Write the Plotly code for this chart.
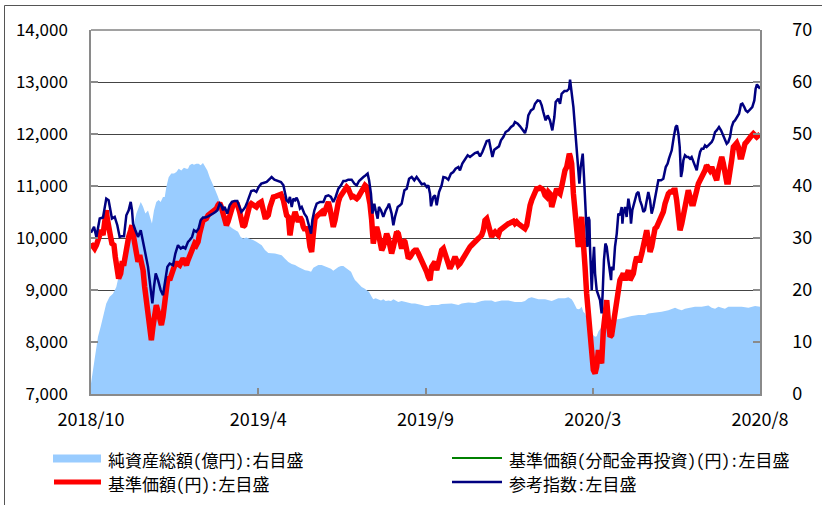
import plotly.graph_objects as go

# ---------------- data ----------------
# x positions are trading-day indices (category axis, 0 .. 460)
tick_pos = [0, 115, 230, 345, 460]
tick_labels = ["2018/10", "2019/4", "2019/9", "2020/3", "2020/8"]

# 純資産総額 (億円) : right axis
aum_day = [0, 1.4, 3.0, 4.8, 6.6, 8.25, 10.5, 12.8, 15.1, 17.4, 19.7, 22.0, 24.3, 25.9, 27.7,
           29.6, 31.2, 32.8, 34.2, 35.8, 37.4, 39.2, 40.8, 41.9, 43.3, 44.9, 46.5, 47.9, 49.5,
           50.7, 51.8, 53.4, 55.2, 57.1, 58.7, 60.3, 62.1, 63.9, 65.6, 66.7, 67.8, 69.5, 70.8,
           72.4, 74.0, 75.4, 77.0, 78.6, 80.0, 81.6, 83.2, 85.0, 86.9, 88.5, 90.8, 92.4, 94.2,
           96.0, 97.6, 99.2, 101.1, 102.9, 104.5, 106.8, 109.1, 111.4, 113.7, 116.0,
           117.4, 119.6, 121.9, 126.5, 131.1, 133.4, 135.7, 138.0, 140.3, 142.6, 144.9, 147.2,
           149.4, 151.3, 152.9, 154.5, 156.3, 158.6, 160.9, 163.2, 165.0, 166.6, 168.2, 170.1,
           171.9, 173.5, 175.1, 176.9, 178.8, 180.4, 181.5, 182.7, 184.3, 186.1, 188.0, 189.6,
           191.2, 193.0, 194.1, 195.7, 197.6, 199.4, 201.0, 202.6, 204.5, 206.3, 207.9, 209.5,
           211.3, 213.6, 215.9, 218.2, 220.5, 222.8, 225.1, 227.4, 229.7, 231.9,
           234.2, 238.8, 241.1, 245.7, 248.0, 252.6, 254.9, 259.5, 264.0, 268.6, 270.9, 275.5,
           277.8, 282.4, 287.0, 291.5, 296.1, 298.4, 300.7, 303.0, 307.6, 312.2, 316.8, 321.3,
           325.9, 328.2, 330.5, 331.7, 332.8, 334.0, 335.1, 336.2, 337.4, 338.5, 339.7, 340.8,
           342.0, 343.1, 344.3, 345.4, 346.6, 347.7, 348.9, 351.1, 353.4, 355.7, 360.3, 364.9,
           367.2, 371.8, 376.4, 380.9, 383.2, 387.8, 392.4, 397.0, 399.3, 401.6, 403.9, 406.2,
           408.4, 413.0, 415.3, 419.9, 424.5, 426.8, 429.1, 431.4, 435.9, 438.2, 442.8, 447.4,
           452.0, 456.6, 460.0]
aum_val = [2.0, 4.6, 8.4, 11.0, 12.9, 14.8, 17.4, 18.7, 19.3, 20.6, 23.2, 26.4, 29.6, 31.5, 32.1,
           32.8, 34.7, 36.0, 36.9, 36.0, 34.7, 35.3, 33.7, 32.8, 35.3, 36.9, 37.3, 36.9, 37.9,
           37.9, 39.8, 41.7, 42.4, 42.4, 42.7, 43.3, 43.0, 43.5, 43.3, 43.3, 44.0, 44.3, 44.1,
           44.3, 44.3, 44.0, 44.4, 43.7, 43.0, 41.7, 40.8, 39.5, 38.2, 36.9, 35.3, 34.1, 32.8,
           32.1, 31.8, 31.5, 31.2, 30.2, 29.9, 30.1, 29.9, 29.6, 29.3, 28.9,
           28.6, 27.7, 27.1, 27.0, 26.7, 26.0, 25.4, 25.0, 24.8, 24.4, 24.1, 23.8,
           23.7, 23.5, 24.3, 24.6, 24.8, 24.8, 24.6, 24.4, 24.1, 23.7, 24.1, 24.4,
           24.6, 24.6, 24.3, 23.9, 23.5, 22.5, 21.9, 21.6, 21.1, 20.6, 20.3, 20.0,
           19.6, 18.7, 18.2, 18.4, 18.2, 18.0, 18.2, 17.9, 18.0, 17.9, 18.2, 18.0,
           17.7, 17.9, 17.7, 17.5, 17.4, 17.4, 17.3, 17.1, 16.9, 16.9,
           17.1, 17.1, 17.3, 17.3, 17.4, 17.1, 17.4, 17.6, 17.5, 17.9, 18.0, 18.0,
           17.7, 18.0, 18.0, 17.7, 17.7, 17.9, 18.4, 18.6, 18.2, 18.2, 17.9, 18.4,
           18.4, 18.6, 18.2, 17.7, 17.1, 16.4, 16.3, 16.4, 16.8, 15.8, 15.5, 14.5,
           13.6, 12.6, 11.8, 11.3, 11.0, 11.1, 12.0, 12.9, 13.6, 13.9, 14.3, 14.5,
           14.7, 15.0, 15.2, 15.2, 15.5, 15.6, 15.8, 16.1, 16.4, 16.6, 16.3, 16.1,
           16.4, 16.6, 16.8, 16.8, 17.0, 16.6, 16.4, 16.8, 16.4, 16.8, 16.8, 16.8,
           16.6, 16.9, 16.8]

# 基準価額 (円) : left axis
nav_day = [0, 1.4, 2.5, 3.7, 4.8, 6.0, 7.1, 8.25, 9.4, 10.5, 11.2, 12.1, 13.5, 14.4, 15.8, 16.7,
           18.1, 19.0, 20.4, 21.3, 22.7, 23.6, 25.0, 25.9, 27.3, 28.2, 28.9, 30.0, 31.2, 32.3,
           33.5, 34.6, 35.8, 36.9, 38.7, 40.3, 41.5, 42.6, 43.8, 44.9, 46.1, 47.2, 48.4, 49.5,
           50.7, 51.8, 52.9, 54.1, 55.2, 56.4, 58.0, 59.4, 61.0, 62.1, 63.3, 64.4, 65.6, 66.7,
           67.8, 69.0, 70.1, 71.3, 72.4, 73.6, 74.7, 75.9, 77.0, 78.2, 79.3, 80.5, 82.3, 83.9,
           85.0, 86.2, 87.3, 88.5, 89.6, 90.8, 91.9, 93.1, 94.2, 95.3, 96.5, 97.6, 98.8, 100.6,
           102.2, 103.4, 104.5, 105.7, 106.8, 107.9, 109.1, 110.2, 112.1, 113.7, 115.3, 117.1,
           118.5, 119.6, 120.8, 121.9, 123.1, 124.2, 125.4, 127.0, 128.8, 130.6, 132.3, 133.4,
           134.5, 135.7, 136.8, 138.0, 139.1, 140.3, 141.4, 142.6, 143.7, 144.9, 146.0, 147.2,
           148.3, 149.4, 150.6, 151.7, 152.9, 154.0, 155.2, 156.3, 157.5, 158.6, 159.8, 160.9,
           162.1, 163.2, 164.3, 165.5, 166.6, 167.8, 168.9, 170.1, 171.2, 172.4, 173.5, 174.7,
           175.8, 176.9, 178.1, 179.2, 180.4, 181.5, 182.7, 183.8, 185.0, 186.1, 187.3, 188.4,
           189.6, 190.7, 191.8, 193.0, 194.1, 195.3, 196.4, 197.6, 198.7, 199.9, 201.0, 202.2,
           203.3, 204.5, 205.6, 206.7, 207.9, 209.0, 210.2, 211.3, 212.5, 213.6, 214.8, 215.9,
           217.1, 218.2, 219.4, 220.5, 221.6, 222.8, 223.9, 225.1, 226.2, 227.4, 228.5, 229.7,
           230.8, 231.9, 233.1, 234.2, 235.4, 236.5, 237.7, 238.8, 240.0, 241.1, 242.3, 243.4,
           244.6, 245.7, 246.8, 248.0, 249.1, 250.3, 251.4, 252.6, 253.7, 254.9, 256.0, 257.2,
           258.3, 259.5, 260.6, 261.7, 262.9, 264.0, 265.2, 266.3, 267.5, 268.6, 269.8, 270.9,
           272.1, 273.2, 274.4, 275.5, 276.6, 277.8, 278.9, 280.1, 281.2, 282.4, 283.5, 284.7,
           285.8, 287.0, 288.1, 289.3, 290.4, 291.5, 292.7, 293.8, 295.0, 296.1, 297.3, 298.4,
           299.6, 300.7, 301.9, 303.0, 304.2, 305.3, 306.4, 307.6, 308.7, 309.9, 311.0, 312.2,
           313.3, 314.5, 315.6, 316.8, 317.9, 319.0, 320.2, 321.3, 322.5, 323.6, 324.8, 325.9,
           327.1, 328.2, 328.9, 329.6, 330.5, 331.7, 332.8, 333.9, 335.1, 336.2, 337.4, 338.1,
           339.0, 339.7, 340.8, 342.0, 343.1, 344.3, 345.4, 346.6, 347.7, 348.9, 350.0, 351.1,
           352.3, 353.4, 354.6, 355.7, 356.9, 358.0, 359.2, 360.3, 361.5, 362.6, 363.7, 364.9,
           366.0, 367.2, 368.3, 369.5, 370.6, 371.8, 372.9, 374.1, 375.2, 376.4, 377.5, 378.7,
           379.8, 381.0, 382.1, 383.2, 384.4, 385.5, 386.7, 387.8, 389.0, 390.1, 391.3, 392.4,
           393.5, 394.7, 395.8, 397.0, 398.1, 399.3, 400.4, 401.6, 402.7, 403.9, 405.0, 406.2,
           407.3, 408.4, 409.6, 410.7, 411.9, 413.0, 414.2, 415.3, 416.5, 417.6, 418.8, 419.9,
           421.0, 422.2, 423.3, 424.5, 425.6, 426.8, 427.9, 429.1, 430.2, 431.4, 432.5, 433.7,
           434.8, 435.9, 437.1, 438.2, 439.4, 440.5, 441.7, 442.8, 444.0, 445.1, 446.3, 447.4,
           448.6, 449.7, 450.8, 452.0, 453.1, 454.3, 455.4, 456.6, 457.7, 458.9, 460.0]
nav_val = [9893, 9829, 9797, 9861, 9957, 10021, 10150, 10054, 10342, 10534, 10374, 10150, 10021,
           9893, 9861, 9637, 9381, 9221, 9317, 9509, 9509, 9701, 9861, 10021, 10150, 10246, 10086,
           9861, 9637, 9541, 9669, 9541, 9381, 9061, 8677, 8293, 8037, 8293, 8613, 8709, 8581,
           8421, 8325, 8485, 8805, 9125, 9253, 9189, 9317, 9381, 9509, 9509, 9477, 9573, 9605,
           9541, 9477, 9573, 9669, 9765, 9797, 9893, 9861, 9925, 10086, 10214, 10342, 10354,
           10374, 10438, 10470, 10502, 10534, 10566, 10630, 10674, 10598, 10438, 10310, 10246,
           10310, 10438, 10534, 10630, 10662, 10649, 10502, 10342, 10214, 10246, 10406, 10566,
           10630, 10662, 10630, 10598, 10662, 10694,
           10533, 10405, 10405, 10437, 10597, 10725, 10789, 10802, 10821, 10840, 10725, 10533,
           10437, 10405, 10053, 10277, 10405, 10501, 10405, 10309, 10405, 10341, 10213, 10149,
           10213, 10085, 9829, 9733, 10085, 10373, 10418, 10456, 10469, 10501, 10437, 10533,
           10661, 10693, 10565, 10405, 10213, 10341, 10565, 10693, 10789, 10853, 10885, 10949,
           10981, 10949, 10885, 10789, 10802, 10777, 10757, 10789, 10853, 10917, 10949, 11013,
           10981, 10853, 10661, 10341, 9893, 10085, 10213, 10085, 9925, 9765, 9829, 9957,
           10085, 9989, 9829, 9701, 9829, 10021, 10117, 10085, 9925, 9797, 9957, 9925,
           9765, 9605, 9637, 9701, 9733, 9765, 9765, 9701, 9637, 9541, 9509, 9445,
           9349, 9253, 9189, 9445, 9509, 9541, 9381, 9509, 9637, 9765, 9797, 9701,
           9605, 9509, 9413, 9477, 9573, 9637, 9573, 9477, 9509, 9573, 9605, 9669,
           9733, 9797, 9829, 9861, 9906, 9925, 9957, 9989, 10021, 10053, 10149, 10341,
           10373, 10277, 10149, 10021, 10085, 10117, 10085, 10053, 10149, 10181, 10213, 10245,
           10258, 10277, 10290, 10309, 10322, 10277, 10309, 10277, 10245, 10213, 10181, 10181,
           10245, 10469, 10629, 10725, 10789, 10885, 10949, 10949, 10968, 10949, 10917, 10821,
           10789, 10885, 10853, 10597, 10725, 10853, 10949, 10885, 10853, 10981, 11237, 11301,
           11365, 11494, 11622, 11558, 11430, 10853, 10405, 9957, 9829, 10213, 10405, 10085,
           9829, 9445, 8933, 8613, 8165, 7845, 7460, 7396, 7524, 7845, 7653, 7588,
           8229, 8677, 8805, 8421, 8101, 8133, 8357, 8549, 8933, 9061, 9189, 9253,
           9317, 9189, 9253, 9381, 9189, 9253, 9317, 9509, 9637, 9573, 9573, 9701,
           9829, 9925, 10149, 9957, 9733, 9829, 10085, 10181, 10213, 10277, 10341, 10405,
           10501, 10661, 10789, 10853, 10885, 10885, 10917, 10917, 10725, 10469, 10149, 10277,
           10469, 10661, 10853, 10917, 10789, 10661, 10661, 10757, 10917, 11045, 11109, 11173,
           11205, 11301, 11397, 11365, 11301, 11365, 11301, 11173, 11109, 11301, 11494, 11558,
           11430, 11173, 11077, 11077, 11237, 11494, 11750, 11782, 11826, 11750, 11558, 11558,
           11750, 11814, 11846, 11878, 11910, 11974, 12006, 11955, 11942, 11974, 11993]

# 基準価額(分配金再投資) (円) : no distributions, identical to 基準価額
nav_re_day = list(nav_day)
nav_re_val = list(nav_val)

# 参考指数 : left axis
ref_day = [0, 2.1, 3.7, 6.0, 8.25, 10.5, 12.1, 13.5, 14.4, 16.3, 18.1, 19.7, 20.9, 22.7, 24.3,
           25.9, 27.3, 28.2, 28.9, 30.5, 32.3, 34.2, 35.8, 37.4, 39.2, 41.0, 42.2, 43.3, 44.5,
           46.1, 47.9, 49.5, 50.7, 52.5, 54.1, 56.4, 58.0, 59.8, 61.7, 63.3, 64.9, 66.7, 67.8,
           69.5, 70.8, 72.4, 74.0, 75.4, 77.0, 78.6, 80.5, 82.3, 83.9, 85.5, 86.9, 88.5, 89.6,
           90.8, 91.9, 93.7, 95.3, 96.9, 98.8, 100.6, 102.2, 103.4, 104.5, 106.1, 107.5, 109.1,
           110.2, 112.1, 113.7, 115.3, 117.1, 118.5, 120.8, 123.1, 124.2, 126.1, 128.4, 130.6,
           132.3, 133.4, 134.5, 135.7, 136.8, 138.0, 139.1, 140.3, 141.4, 142.6, 143.7, 144.9,
           146.7, 148.3, 149.9, 151.3, 152.2, 153.6, 155.2, 157.5, 159.8, 161.4, 163.2, 165.0,
           166.6, 168.2, 170.1, 171.9, 173.5, 175.1, 176.9, 179.2, 181.1, 182.7, 184.3, 185.7,
           187.3, 188.9, 190.2, 191.2, 192.5, 193.5, 194.8, 195.7, 197.1, 198.0, 199.4, 201.0,
           202.6, 204.0, 204.9, 206.7, 207.9, 209.0, 210.9, 212.5, 213.6, 215.5, 217.1, 218.7,
           220.5, 222.3, 223.9, 225.5, 227.4, 229.2, 230.8, 231.9, 233.1, 233.8, 235.4, 236.5,
           237.7, 239.3, 241.1, 242.3, 243.9, 245.7, 247.5, 249.1, 250.7, 252.6, 253.7, 255.3,
           257.2, 259.0, 260.6, 262.2, 264.0, 265.9, 267.5, 269.1, 270.5, 272.1, 273.7, 275.0,
           276.0, 277.3, 278.9, 280.5, 281.9, 283.5, 285.1, 287.0, 288.8, 290.4, 291.5, 293.4,
           295.0, 296.6, 298.4, 299.6, 300.7, 302.5, 304.2, 305.3, 307.1, 308.7, 309.9, 311.0,
           312.6, 314.0, 315.6, 317.2, 318.6, 319.5, 321.3, 322.5, 323.6, 325.5, 327.1, 328.7,
           329.4, 331.7, 333.5, 334.6, 335.8, 336.7, 338.1, 339.0, 340.4, 341.3, 342.0, 342.7,
           343.1, 344.3, 345.0, 345.9, 346.6, 347.7, 350.0, 351.1, 351.8, 352.7, 353.7, 354.6,
           355.7, 356.9, 357.6, 358.0, 359.2, 360.3, 361.5, 362.6, 363.7, 364.9, 365.4, 366.0,
           367.2, 368.3, 369.5, 370.6, 371.3, 372.2, 373.6, 375.2, 376.4, 377.5, 378.7, 379.8,
           380.9, 382.1, 383.2, 384.4, 385.5, 386.7, 387.8, 389.0, 390.1, 391.9, 393.5, 395.2,
           396.5, 397.4, 399.3, 400.7, 402.0, 402.9, 403.9, 404.8, 405.7, 406.6, 407.3, 408.4,
           409.6, 410.7, 411.9, 413.0, 414.2, 415.3, 416.5, 417.6, 418.8, 419.9, 421.1, 422.2,
           423.3, 424.5, 425.6, 426.8, 427.9, 429.1, 430.2, 431.8, 433.2, 434.8, 435.9, 437.1,
           438.2, 439.4, 440.5, 441.7, 442.8, 444.0, 445.6, 446.9, 447.9, 449.2, 450.2, 451.5,
           452.5, 453.8, 454.7, 456.1, 457.0, 457.9, 458.9, 460.0]
ref_val = [10100, 10214, 10021, 10374, 10393, 10758, 10726, 10470, 10374, 10406, 10246, 10021,
           10034, 10034, 10438, 10534, 10694, 10534, 10278, 10150, 10021, 10150, 9957, 9701,
           9445, 9061, 8741, 9061, 9317, 9189, 8997, 8901, 9125, 9445, 9509, 9477, 9701, 9861,
           9797, 9829, 9797, 9925, 9957, 10021, 10150, 10118, 10182, 10342, 10393, 10393, 10418,
           10438, 10470, 10502, 10534, 10662, 10630, 10534, 10598, 10470, 10630, 10694, 10713,
           10713, 10598, 10502, 10534, 10598, 10694, 10822, 10905, 10918, 10886, 10982, 11046,
           11058, 11077, 11141, 11173, 11122, 11097, 11077, 11013, 10885, 10725, 10693, 10789,
           10597, 10757, 10725, 10777, 10693, 10565, 10597, 10469, 10405, 10213, 10085, 10341,
           10533, 10661, 10693, 10693, 10802, 10821, 10789, 10693, 10789, 10949, 11013, 11097,
           11097, 11122, 11122, 11045, 11013, 11097, 11141, 11173, 11206, 11238, 11109, 10853,
           10469, 10661, 10533, 10373, 10597, 10533, 10405, 10533, 10597, 10661, 10469, 10245,
           10405, 10597, 10629, 10661, 10917, 10949, 11141, 11173, 11109, 11173, 11109, 11033,
           11045, 10981, 11013, 10853, 10610, 10789, 10821, 10629, 10885, 11013, 11173, 11161,
           11122, 11238, 11269, 11333, 11365, 11301, 11430, 11526, 11590, 11558, 11590, 11634,
           11654, 11570, 11654, 11750, 11865, 11878, 11718, 11558, 11698, 11737, 11762, 11878,
           11942, 12038, 12070, 12134, 12166, 12230, 12198, 12147, 12083, 12018, 12134, 12358,
           12454, 12486, 12582, 12646, 12633, 12550, 12422, 12262, 12358, 12262, 12070, 12326,
           12614, 12678, 12582, 12774, 12825, 12825, 12870, 13043, 12518, 11878, 11494, 11045,
           11365, 11622, 11173, 10405, 9829, 10405, 10341, 9829, 8997, 9445, 9829, 9317, 8997,
           8805, 8549, 8933, 9573, 9893, 9829, 9573, 9317, 9189, 9445, 9381, 9829, 10085, 10469,
           10437, 10597, 10277, 10469, 10597, 10405, 10757, 10565, 10277, 10533, 10661, 10853,
           10885, 10725, 10629, 10501, 10533, 10725, 10885, 10725, 10469, 10597, 10757, 10917,
           11109, 11109, 11141, 11365, 11430, 11526, 11686, 11942, 12134, 12166, 12006, 11750,
           11173, 11301, 11494, 11590, 11558, 11558, 11526, 11558, 11462, 11365, 11301, 11494,
           11654, 11718, 11718, 11782, 11750, 11782, 11814, 11846, 11910, 12038, 12070, 12134,
           12070, 11974, 11878, 11814, 11846, 11942, 12134, 12230, 12262, 12326, 12390, 12569,
           12582, 12518, 12454, 12422, 12454, 12486, 12518, 12646, 12870, 12953, 12915, 12870]

names = ["純資産総額(億円):右目盛", "基準価額(分配金再投資)(円):左目盛",
         "基準価額(円):左目盛", "参考指数:左目盛"]

# ---------------- figure ----------------
W, H = 828, 505
PL, PR, PT, PB = 91, 760, 30, 394  # plot-area pixel box
FONT = "Noto Sans CJK JP, Noto Sans, sans-serif"
LFONT = "Noto Sans Mono CJK JP, Noto Sans CJK JP, sans-serif"


def px(x):
    return (x - PL) / (PR - PL)


def py(y):
    return (PB - y) / (PB - PT)


fig = go.Figure()
fig.add_trace(go.Scatter(x=aum_day, y=aum_val, yaxis="y", mode="lines", name=names[0],
                         fill="tozeroy", fillcolor="#99CCFF", line=dict(width=0, color="#99CCFF"),
                         hoverinfo="skip"))
fig.add_trace(go.Scatter(x=nav_re_day, y=nav_re_val, yaxis="y2", mode="lines", name=names[1],
                         line=dict(width=2, color="#008000")))
fig.add_trace(go.Scatter(x=nav_day, y=nav_val, yaxis="y2", mode="lines", name=names[2],
                         line=dict(width=5.5, color="#FF0000")))
fig.add_trace(go.Scatter(x=ref_day, y=ref_val, yaxis="y2", mode="lines", name=names[3],
                         line=dict(width=2.5, color="#000080")))

axis_gray = "#8A8A8A"
fig.update_layout(
    width=W, height=H,
    margin=dict(l=PL, r=W - PR, t=PT, b=H - PB, pad=0),
    paper_bgcolor="white", plot_bgcolor="white",
    showlegend=False,
    font=dict(family=FONT, color="black"),
    xaxis=dict(range=[0, 460], tickvals=tick_pos, ticktext=tick_labels,
               ticks="inside", ticklen=6, tickcolor=axis_gray, tickwidth=1.5,
               showline=True, linecolor=axis_gray, linewidth=1.5,
               showgrid=False, zeroline=False, tickfont=dict(size=18),
               ticklabelstandoff=9),
    yaxis=dict(range=[0, 70], dtick=10, side="right", showgrid=True, gridcolor="#444444",
               gridwidth=1, ticks="inside", ticklen=7, tickcolor=axis_gray, tickwidth=1.5,
               showline=True, linecolor=axis_gray, linewidth=1.5, zeroline=False,
               tickfont=dict(size=18), ticklabelstandoff=27),
    yaxis2=dict(range=[7000, 14000], dtick=1000, overlaying="y", side="left",
                tickformat=",", showgrid=False, zeroline=False, ticks="inside", ticklen=7,
                tickcolor=axis_gray, tickwidth=1.5, showline=True, linecolor=axis_gray,
                linewidth=1.5, tickfont=dict(size=17), ticklabelstandoff=18),
)

shapes = []
# top border of the plot area
shapes.append(dict(type="line", xref="paper", yref="paper", x0=0, x1=1, y0=1, y1=1,
                   line=dict(color="#444444", width=1)))
# outer chart frame
shapes.append(dict(type="line", xref="paper", yref="paper", x0=px(4.5), x1=px(822),
                   y0=py(5.5), y1=py(5.5), line=dict(color="#555555", width=1)))
shapes.append(dict(type="line", xref="paper", yref="paper", x0=px(4.5), x1=px(4.5),
                   y0=py(5.5), y1=py(510), line=dict(color="#555555", width=1)))
# legend symbols
shapes.append(dict(type="rect", xref="paper", yref="paper", x0=px(53), x1=px(101),
                   y0=py(454.5), y1=py(462.5), fillcolor="#99CCFF", line=dict(width=0)))
shapes.append(dict(type="line", xref="paper", yref="paper", x0=px(452), x1=px(502),
                   y0=py(458), y1=py(458), line=dict(color="#008000", width=2)))
shapes.append(dict(type="line", xref="paper", yref="paper", x0=px(54), x1=px(101),
                   y0=py(482), y1=py(482), line=dict(color="#FF0000", width=5)))
shapes.append(dict(type="line", xref="paper", yref="paper", x0=px(452), x1=px(502),
                   y0=py(482), y1=py(482), line=dict(color="#000080", width=2.5)))
fig.update_layout(shapes=shapes)

legend_pos = [(106, 459), (507, 459), (106, 483), (507, 483)]
for (lx, ly), txt in zip(legend_pos, names):
    fig.add_annotation(xref="paper", yref="paper", x=px(lx), y=py(ly), text=txt,
                       showarrow=False, xanchor="left", yanchor="middle",
                       font=dict(family=LFONT, size=17, color="black"))

fig.write_html("out.html", config={"displayModeBar": False},
               post_script="document.body.style.margin='0';document.body.style.overflow='hidden';")
